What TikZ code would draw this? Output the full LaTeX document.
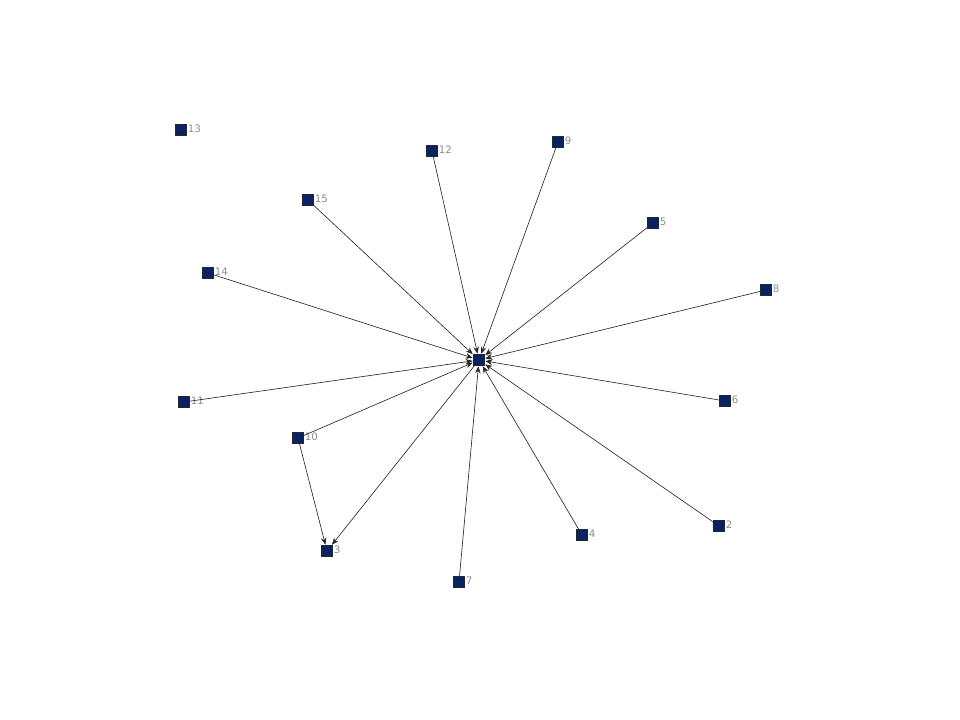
\documentclass[tikz,border=0pt]{standalone}
\usepackage{fontspec}
\setmainfont{DejaVu Sans}
\usepackage{tikz}
\usetikzlibrary{positioning}
\usetikzlibrary{arrows.meta}

\definecolor{vblue}{HTML}{0B2260}
\definecolor{lgray}{HTML}{8C8C8C}

\tikzset{
	vert/.style={draw=black, fill=vblue, minimum size=0.28cm, inner sep=0pt, line width=0.4pt, rounded corners=0.3pt},
	lbl/.style={text=lgray, font=\fontsize{7.3}{8}\selectfont, inner sep=0.5pt},
	edg/.style={-{Stealth[length=5pt,width=4pt]}, line width=0.45pt, draw=black!85, shorten >=0.3pt}
}

\begin{document}
\begin{tikzpicture}[x=0.025cm, y=-0.025cm]
	\useasboundingbox (0,0) rectangle (960,720);
	
	\node[vert] (n1) at (479,360) {};
	\node[vert] (n13) at (181,130) {};
	\node[vert] (n12) at (432,151) {};
	\node[vert] (n9) at (558,142) {};
	\node[vert] (n15) at (308,200) {};
	\node[vert] (n5) at (653,223) {};
	\node[vert] (n14) at (208,273) {};
	\node[vert] (n8) at (766,290) {};
	\node[vert] (n11) at (184,402) {};
	\node[vert] (n6) at (725,401) {};
	\node[vert] (n10) at (298,438) {};
	\node[vert] (n2) at (719,526) {};
	\node[vert] (n4) at (582,535) {};
	\node[vert] (n3) at (327,551) {};
	\node[vert] (n7) at (459,582) {};
	
	% labels
	\foreach \v in {1,2,...,15}
		\node[lbl, right = 0pt of n\v, yshift=1pt] (l\v) {\v};
	
	% edges into the hub
	\foreach \v in {2,4,5,6,7,8,9,10,11,12,14,15}
		\draw[edg] (n\v) -- (n1);
	\draw[edg] (n1) -- (n3);
	\draw[edg] (n10) -- (n3);
\end{tikzpicture}
\end{document}
